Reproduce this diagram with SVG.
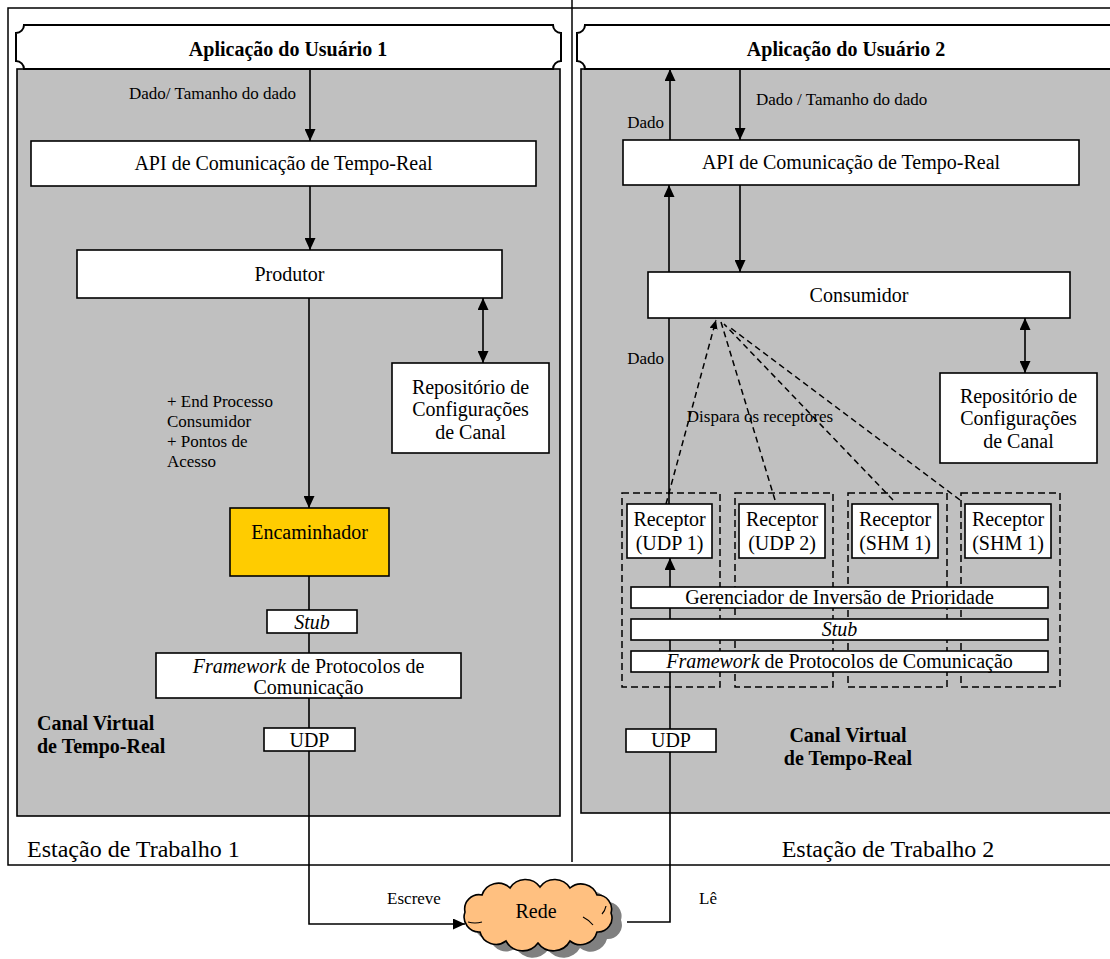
<svg xmlns="http://www.w3.org/2000/svg" width="1110" height="959" viewBox="0 0 1110 959">
<defs>
<style>
text{font-family:"Liberation Serif","Times New Roman",serif;fill:#000}
.box{fill:#fff;stroke:#000;stroke-width:1.6}
.panel{fill:#c0c0c0;stroke:#000;stroke-width:1.6}
.hdr{fill:#fff;stroke:#000;stroke-width:2}
.c20{font-size:20px;text-anchor:middle}
.lbl{font-size:17px}
.hb{font-size:20px;font-weight:bold}
.big{font-size:24px}
.ln{fill:none;stroke:#000;stroke-width:1.6}
.dash{fill:none;stroke:#000;stroke-width:1.5;stroke-dasharray:6 4}
.grp{fill:none;stroke:#000;stroke-width:1.5;stroke-dasharray:7 4}
</style>
<marker id="ah" markerUnits="userSpaceOnUse" markerWidth="12" markerHeight="11" refX="12" refY="5.5" orient="auto-start-reverse"><path d="M0,0 L12,5.5 L0,11 Z" fill="#000"/></marker>
<marker id="ahs" markerUnits="userSpaceOnUse" markerWidth="9" markerHeight="8" refX="9" refY="4" orient="auto"><path d="M0,0 L9,4 L0,8 Z" fill="#000"/></marker>
<path id="cloud" d="M465,912 A14.4,14.4 0 0 1 482,895 A17,17 0 0 1 510,888 A18,18 0 0 1 540,887 A18,18 0 0 1 570,888 A17,17 0 0 1 597,895 A14,14 0 0 1 611,913 A14,14 0 0 1 597,932 A17,17 0 0 1 570,941 A19,19 0 0 1 538,943 A19,19 0 0 1 506,941 A16.5,16.5 0 0 1 480,932 A15,15 0 0 1 465,912 Z"/>
</defs>

<!-- workstation frame and divider -->
<rect x="8" y="8" width="1115" height="857" fill="#fff" stroke="#000" stroke-width="1.5"/>
<line x1="572" y1="0" x2="572" y2="862" stroke="#000" stroke-width="1.5"/>

<!-- virtual channel panels -->
<rect class="panel" x="17" y="69" width="543" height="747"/>
<rect class="panel" x="581" y="69" width="545" height="744"/>

<!-- application headers -->
<g id="app1">
<path class="hdr" d="M24,25 H553 A8,8 0 0 0 561,33 V61 A8,8 0 0 0 553,69 H24 A8,8 0 0 0 16,61 V33 A8,8 0 0 0 24,25 Z"/>
<text class="hb" x="288" y="56" text-anchor="middle">Aplicação do Usuário 1</text>
</g>
<g id="app2">
<path class="hdr" d="M585,25 H1114 A8,8 0 0 0 1122,33 V61 A8,8 0 0 0 1114,69 H585 A8,8 0 0 0 577,61 V33 A8,8 0 0 0 585,25 Z"/>
<text class="hb" x="846" y="56" text-anchor="middle">Aplicação do Usuário 2</text>
</g>

<!-- connectors -->
<g id="connectors">
<line class="ln" x1="310" y1="69" x2="310" y2="141" marker-end="url(#ah)"/>
<line class="ln" x1="310" y1="186" x2="310" y2="250" marker-end="url(#ah)"/>
<line class="ln" x1="309" y1="298" x2="309" y2="508" marker-end="url(#ah)"/>
<line class="ln" x1="483" y1="298" x2="483" y2="363" marker-start="url(#ah)" marker-end="url(#ah)"/>
<path class="ln" d="M309,576 V924 H465" marker-end="url(#ah)"/>

<line class="ln" x1="670" y1="140" x2="670" y2="69" marker-end="url(#ah)"/>
<line class="ln" x1="740" y1="69" x2="740" y2="140" marker-end="url(#ah)"/>
<line class="ln" x1="740" y1="185" x2="740" y2="272" marker-end="url(#ah)"/>
<line class="ln" x1="669" y1="504" x2="669" y2="185" marker-end="url(#ah)"/>
<line class="ln" x1="1025" y1="318" x2="1025" y2="373" marker-start="url(#ah)" marker-end="url(#ah)"/>
<path class="ln" d="M627,922 H670 V558" marker-end="url(#ah)"/>

<line class="dash" x1="666" y1="504" x2="716" y2="320" marker-end="url(#ahs)"/>
<line class="dash" x1="775" y1="500" x2="721" y2="322"/>
<line class="dash" x1="893" y1="500" x2="724" y2="324"/>
<line class="dash" x1="960" y1="500" x2="728" y2="326"/>
</g>

<!-- workstation 1 -->
<g id="api1">
<rect class="box" x="31" y="141" width="505" height="45"/>
<text class="c20" x="283.5" y="170">API de Comunicação de Tempo-Real</text>
</g>
<g id="produtor">
<rect class="box" x="77" y="250" width="425" height="48"/>
<text class="c20" x="289.5" y="281">Produtor</text>
</g>
<g id="repo1">
<rect class="box" x="392" y="363" width="157" height="90"/>
<text class="c20" x="470.5" y="394">Repositório de</text>
<text class="c20" x="470.5" y="416">Configurações</text>
<text class="c20" x="470.5" y="439">de Canal</text>
</g>
<g id="encaminhador">
<rect x="230" y="508" width="159" height="68" fill="#ffcc00" stroke="#000" stroke-width="1.6"/>
<text class="c20" x="309.5" y="539">Encaminhador</text>
</g>
<g id="stub1">
<rect class="box" x="267" y="610" width="90" height="23"/>
<text class="c20" x="312" y="629" font-style="italic">Stub</text>
</g>
<g id="framework1">
<rect class="box" x="156" y="653" width="305" height="45"/>
<text class="c20" x="308.5" y="673"><tspan font-style="italic">Framework</tspan> de Protocolos de</text>
<text class="c20" x="308.5" y="694">Comunicação</text>
</g>
<g id="udp1">
<rect class="box" x="264" y="728" width="91" height="23"/>
<text class="c20" x="309.5" y="747">UDP</text>
</g>

<!-- workstation 2 -->
<g id="api2">
<rect class="box" x="623" y="140" width="456" height="45"/>
<text class="c20" x="851" y="169">API de Comunicação de Tempo-Real</text>
</g>
<g id="consumidor">
<rect class="box" x="648" y="272" width="422" height="46"/>
<text class="c20" x="859" y="302">Consumidor</text>
</g>
<g id="repo2">
<rect class="box" x="940" y="373" width="157" height="90"/>
<text class="c20" x="1018.5" y="403">Repositório de</text>
<text class="c20" x="1018.5" y="425">Configurações</text>
<text class="c20" x="1018.5" y="448">de Canal</text>
</g>
<g id="receptor-groups">
<rect class="grp" x="622" y="493" width="98" height="194"/>
<rect class="grp" x="735" y="493" width="98" height="194"/>
<rect class="grp" x="848" y="493" width="99" height="194"/>
<rect class="grp" x="961" y="493" width="99" height="194"/>
</g>
<g id="receptor-udp1">
<rect class="box" x="627" y="504" width="85" height="54"/>
<text class="c20" x="669.5" y="526">Receptor</text>
<text class="c20" x="669.5" y="550">(UDP 1)</text>
</g>
<g id="receptor-udp2">
<rect class="box" x="739" y="504" width="86" height="54"/>
<text class="c20" x="782" y="526">Receptor</text>
<text class="c20" x="782" y="550">(UDP 2)</text>
</g>
<g id="receptor-shm1a">
<rect class="box" x="852" y="504" width="86" height="54"/>
<text class="c20" x="895" y="526">Receptor</text>
<text class="c20" x="895" y="550">(SHM 1)</text>
</g>
<g id="receptor-shm1b">
<rect class="box" x="965" y="504" width="86" height="54"/>
<text class="c20" x="1008" y="526">Receptor</text>
<text class="c20" x="1008" y="550">(SHM 1)</text>
</g>
<g id="gerenciador">
<rect class="box" x="631" y="587" width="417" height="21"/>
<text class="c20" x="839.5" y="604">Gerenciador de Inversão de Prioridade</text>
</g>
<g id="stub2">
<rect class="box" x="631" y="619" width="417" height="21"/>
<text class="c20" x="839.5" y="636" font-style="italic">Stub</text>
</g>
<g id="framework2">
<rect class="box" x="631" y="651" width="417" height="21"/>
<text class="c20" x="839.5" y="668"><tspan font-style="italic">Framework</tspan> de Protocolos de Comunicação</text>
</g>
<g id="udp2">
<rect class="box" x="626" y="729" width="90" height="23"/>
<text class="c20" x="671" y="747">UDP</text>
</g>

<!-- network -->
<g id="rede">
<use href="#cloud" transform="translate(10,7)" fill="#808080"/>
<use href="#cloud" fill="#ffc080" stroke="#000" stroke-width="1.6"/>
<path d="M468,922 q7,2 14,0 M583,917 q6,3 10,8 M606,906 q-1,5 -4,8" fill="none" stroke="#000" stroke-width="1.2"/>
<text class="c20" x="536" y="918">Rede</text>
</g>

<!-- labels -->
<g id="labels">
<text class="lbl" x="296" y="99" text-anchor="end">Dado/ Tamanho do dado</text>
<text class="lbl" x="167" y="407">+ End Processo</text>
<text class="lbl" x="167" y="427">Consumidor</text>
<text class="lbl" x="167" y="447">+ Pontos de</text>
<text class="lbl" x="167" y="467">Acesso</text>
<text class="hb" x="37" y="730">Canal Virtual</text>
<text class="hb" x="37" y="753">de Tempo-Real</text>
<text class="big" x="27" y="857">Estação de Trabalho 1</text>

<text class="lbl" x="756" y="105">Dado / Tamanho do dado</text>
<text class="lbl" x="664" y="128" text-anchor="end">Dado</text>
<text class="lbl" x="664" y="364" text-anchor="end">Dado</text>
<text class="lbl" x="760" y="422" text-anchor="middle">Dispara os receptores</text>
<text class="hb" x="848" y="742" text-anchor="middle">Canal Virtual</text>
<text class="hb" x="848" y="765" text-anchor="middle">de Tempo-Real</text>
<text class="big" x="888" y="857" text-anchor="middle">Estação de Trabalho 2</text>

<text class="lbl" x="414" y="904" text-anchor="middle">Escreve</text>
<text class="lbl" x="708" y="904" text-anchor="middle">Lê</text>
</g>
</svg>
